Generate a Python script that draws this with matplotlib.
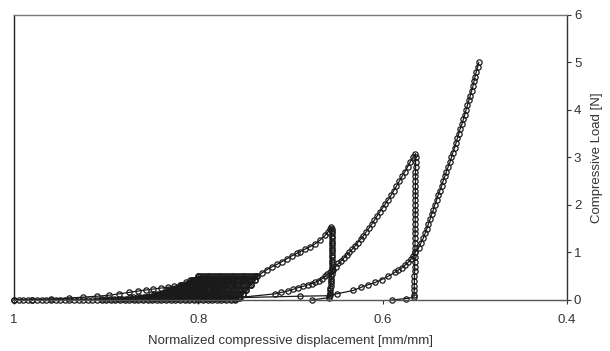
import matplotlib
matplotlib.use("Agg")
import matplotlib.pyplot as plt

plt.rcParams["font.family"] = ["Liberation Sans", "DejaVu Sans"]

# ---- data (x = normalized displacement, y = load in N) ----
# zero-load run along the baseline before the later loadings
base_a = [1.0, 0.99, 0.98, 0.97, 0.96, 0.95, 0.94, 0.93, 0.92, 0.91, 0.90, 0.89, 0.88,
          0.87, 0.86, 0.85, 0.84, 0.83, 0.82, 0.81, 0.80, 0.79, 0.78, 0.77, 0.76]
base_b = [0.995, 0.985, 0.975, 0.965, 0.955, 0.945, 0.935, 0.925, 0.915, 0.905, 0.895, 0.885,
          0.875, 0.865, 0.855, 0.845, 0.835, 0.825, 0.815, 0.805, 0.795, 0.785, 0.775, 0.765]

# first loading up to 0.5 N
init_x = [1.0, 0.98, 0.96, 0.94, 0.925, 0.91, 0.897, 0.886, 0.875, 0.865, 0.857, 0.849,
          0.841, 0.833, 0.826, 0.819, 0.813, 0.807, 0.800]
init_y = [0.0, 0.01, 0.02, 0.04, 0.06, 0.08, 0.10, 0.13, 0.16, 0.19, 0.21, 0.23,
          0.25, 0.27, 0.29, 0.32, 0.37, 0.43, 0.50]

# repeated 0.5 N cycles: one row per load level, one column per unload/reload branch
cycle_load = [0.5, 0.42, 0.32, 0.21, 0.12, 0.06, 0.02]
cycle_x = [
    [0.800, 0.798, 0.796, 0.794, 0.792, 0.790, 0.788, 0.786, 0.784, 0.782, 0.780, 0.778, 0.776,
     0.774, 0.772, 0.770, 0.768, 0.766, 0.764, 0.762, 0.760, 0.758, 0.756, 0.754, 0.752, 0.750,
     0.748, 0.746, 0.744, 0.742, 0.740, 0.738, 0.736],
    [0.809, 0.807, 0.805, 0.8025, 0.800, 0.798, 0.796, 0.7935, 0.791, 0.789, 0.787, 0.785, 0.783,
     0.7805, 0.778, 0.776, 0.774, 0.772, 0.770, 0.7675, 0.765, 0.763, 0.761, 0.759, 0.757, 0.7545,
     0.752, 0.750, 0.748, 0.746, 0.744, 0.7415, 0.739],
    [0.820, 0.8175, 0.815, 0.8125, 0.810, 0.808, 0.806, 0.8035, 0.801, 0.7985, 0.796, 0.7935, 0.791,
     0.7885, 0.786, 0.784, 0.782, 0.7795, 0.777, 0.7745, 0.772, 0.7695, 0.767, 0.7645, 0.762, 0.760,
     0.758, 0.7555, 0.753, 0.7505, 0.748, 0.7455, 0.743],
    [0.834, 0.8315, 0.829, 0.826, 0.823, 0.8205, 0.818, 0.815, 0.812, 0.8095, 0.807, 0.8045, 0.802,
     0.799, 0.796, 0.7935, 0.791, 0.788, 0.785, 0.7825, 0.780, 0.7775, 0.775, 0.772, 0.769, 0.7665,
     0.764, 0.7615, 0.759, 0.756, 0.753, 0.7505, 0.748],
    [0.851, 0.848, 0.845, 0.842, 0.839, 0.8355, 0.832, 0.829, 0.826, 0.823, 0.820, 0.817, 0.814,
     0.8105, 0.807, 0.804, 0.801, 0.798, 0.795, 0.792, 0.789, 0.786, 0.783, 0.780, 0.777, 0.7735,
     0.770, 0.767, 0.764, 0.761, 0.758, 0.755, 0.752],
    [0.874, 0.8705, 0.867, 0.863, 0.859, 0.8555, 0.852, 0.8485, 0.845, 0.841, 0.837, 0.8335, 0.830,
     0.826, 0.822, 0.8185, 0.815, 0.8115, 0.808, 0.804, 0.800, 0.7965, 0.793, 0.789, 0.785, 0.7815,
     0.778, 0.7745, 0.771, 0.767, 0.763, 0.7595, 0.756],
    [0.905, 0.9005, 0.896, 0.8915, 0.887, 0.8825, 0.878, 0.8735, 0.869, 0.8645, 0.860, 0.8555, 0.851,
     0.8465, 0.842, 0.8375, 0.833, 0.828, 0.823, 0.8185, 0.814, 0.8095, 0.805, 0.8005, 0.796, 0.7915,
     0.787, 0.7825, 0.778, 0.7735, 0.769, 0.7645, 0.760],
]

# loading to 1.5 N and unloading
load15_x = [0.760, 0.756, 0.752, 0.748, 0.743, 0.739, 0.736, 0.731, 0.7255, 0.720, 0.7147, 0.709,
            0.7038, 0.6985, 0.6935, 0.6897, 0.6843, 0.6789, 0.6735, 0.668, 0.6625, 0.659, 0.657, 0.656]
load15_y = [0.02, 0.06, 0.12, 0.21, 0.32, 0.42, 0.50, 0.57, 0.64, 0.70, 0.75, 0.81,
            0.87, 0.93, 0.98, 1.02, 1.07, 1.12, 1.18, 1.26, 1.36, 1.44, 1.50, 1.54]
unload15_x = [0.6555, 0.6555, 0.6555, 0.6555, 0.6555, 0.6555, 0.6555, 0.6555, 0.6555, 0.6555,
              0.6555, 0.6555, 0.6555, 0.6555, 0.6555, 0.6555, 0.6555, 0.6555, 0.6555, 0.6555,
              0.6557, 0.656, 0.656, 0.6562, 0.6565, 0.6568, 0.657, 0.6572, 0.6575, 0.658, 0.677]
unload15_y = [1.50, 1.45, 1.40, 1.35, 1.30, 1.25, 1.20, 1.15, 1.10, 1.05,
              1.00, 0.95, 0.90, 0.85, 0.80, 0.75, 0.70, 0.65, 0.60, 0.55,
              0.50, 0.45, 0.40, 0.35, 0.30, 0.25, 0.20, 0.15, 0.10, 0.05, 0.0]

# loading to 3 N and unloading
load3_x = [0.757, 0.7168, 0.710, 0.7027, 0.697, 0.6918, 0.686, 0.681, 0.677, 0.673, 0.669, 0.666,
           0.6626, 0.660, 0.6571, 0.654, 0.651, 0.648, 0.645, 0.642, 0.639, 0.636, 0.633, 0.630,
           0.627, 0.624, 0.621, 0.618, 0.615, 0.612, 0.609, 0.606, 0.603, 0.600, 0.597, 0.594,
           0.591, 0.588, 0.585, 0.582, 0.579, 0.576, 0.573, 0.570, 0.567, 0.5645]
load3_y = [0.05, 0.13, 0.16, 0.19, 0.225, 0.26, 0.29, 0.32, 0.345, 0.375, 0.41, 0.45,
           0.50, 0.54, 0.58, 0.64, 0.70, 0.77, 0.83, 0.89, 0.95, 1.01, 1.07, 1.14,
           1.21, 1.28, 1.35, 1.43, 1.51, 1.59, 1.68, 1.77, 1.86, 1.94, 2.03, 2.11,
           2.20, 2.30, 2.40, 2.50, 2.60, 2.70, 2.80, 2.91, 3.01, 3.08]
unload3_x = [0.5643, 0.5643, 0.5643, 0.5644, 0.5644, 0.5644, 0.5645, 0.5645, 0.5645, 0.5646,
             0.5646, 0.5646, 0.5647, 0.5647, 0.5647, 0.5648, 0.5648, 0.5649, 0.5649, 0.565,
             0.565, 0.5651, 0.5652, 0.5653, 0.5654, 0.5655, 0.5656, 0.5657, 0.5658, 0.566,
             0.566, 0.575, 0.590]
unload3_y = [3.00, 2.90, 2.80, 2.70, 2.60, 2.50, 2.40, 2.30, 2.20, 2.10,
             2.00, 1.90, 1.80, 1.70, 1.60, 1.50, 1.40, 1.30, 1.20, 1.10,
             1.00, 0.90, 0.80, 0.70, 0.60, 0.50, 0.40, 0.30, 0.20, 0.10,
             0.06, 0.03, 0.0]

# loading to 5 N
load5_x = [0.755, 0.690, 0.658, 0.650, 0.632, 0.623, 0.616, 0.608, 0.601, 0.594, 0.587, 0.583,
           0.579, 0.5755, 0.572, 0.569, 0.567, 0.565, 0.561, 0.5585, 0.556, 0.554, 0.552, 0.5505,
           0.5485, 0.547, 0.545, 0.5435, 0.5415, 0.540, 0.538, 0.536, 0.5345, 0.5325, 0.531, 0.529,
           0.527, 0.5255, 0.524, 0.522, 0.5205, 0.519, 0.5175, 0.516, 0.514, 0.5125, 0.511, 0.5095,
           0.508, 0.5065, 0.505, 0.5035, 0.502, 0.501, 0.4998, 0.4985, 0.497, 0.4958]
load5_y = [0.05, 0.08, 0.09, 0.13, 0.20, 0.27, 0.32, 0.37, 0.43, 0.50, 0.58, 0.63,
           0.68, 0.74, 0.80, 0.87, 0.93, 1.0, 1.1, 1.2, 1.3, 1.4, 1.5, 1.6,
           1.7, 1.8, 1.9, 2.0, 2.1, 2.2, 2.3, 2.4, 2.5, 2.6, 2.7, 2.8,
           2.9, 3.0, 3.1, 3.2, 3.3, 3.4, 3.5, 3.6, 3.7, 3.8, 3.9, 4.0,
           4.1, 4.2, 4.3, 4.4, 4.5, 4.6, 4.7, 4.8, 4.9, 5.0]

# ---- assemble the paths ----
cyc_x, cyc_y = [], []
for i, col in enumerate(zip(*cycle_x)):
    col = list(col)
    lev = list(cycle_load)
    if i % 2 == 1:  # reload branch goes back up
        col, lev = col[::-1], lev[::-1]
    cyc_x += col
    cyc_y += lev

path1_x = init_x + cyc_x + load15_x + unload15_x
path1_y = init_y + cyc_y + load15_y + unload15_y
path2_x = base_a + load3_x + unload3_x
path2_y = [0.0] * len(base_a) + load3_y + unload3_y
path3_x = base_b + load5_x
path3_y = [0.0] * len(base_b) + load5_y

ink = "#1a1a1a"
style = dict(color=ink, lw=0.9, marker="o", ms=3.8, mfc="none", mec=ink, mew=0.9, clip_on=False)

fig, ax = plt.subplots(figsize=(6.1, 3.51), dpi=100)
fig.subplots_adjust(left=0.023, right=0.9295, bottom=0.1453, top=0.9573)

ax.plot(path1_x, path1_y, **style)
ax.plot(path2_x, path2_y, **style)
ax.plot(path3_x, path3_y, **style)

ax.set_xlim(1, 0.4)
ax.set_ylim(0, 6)
ax.set_xticks([1, 0.8, 0.6, 0.4])
ax.set_xticklabels(["1", "0.8", "0.6", "0.4"])
ax.set_yticks([0, 1, 2, 3, 4, 5, 6])

ax.yaxis.tick_right()
ax.yaxis.set_label_position("right")
ax.tick_params(axis="y", direction="out", length=3, width=0.8, pad=2, labelsize=9.5,
               colors="#333333")
ax.tick_params(axis="x", direction="out", length=3, width=0.8, pad=7, labelsize=9.5,
               colors="#333333")

ax.spines["left"].set_color("#222222")
ax.spines["top"].set_color("#777777")
ax.spines["bottom"].set_color("#555555")
ax.spines["right"].set_color("#333333")
for s in ax.spines.values():
    s.set_linewidth(1.0)

ax.set_xlabel("Normalized compressive displacement [mm/mm]", fontsize=9.5, color="#333333")
ax.xaxis.set_label_coords(0.5, -0.124)
ax.set_ylabel("Compressive Load [N]", fontsize=9.5, color="#333333")
ax.yaxis.set_label_coords(1.043, 0.5)

plt.savefig("out.png", dpi=100)
plt.close()
